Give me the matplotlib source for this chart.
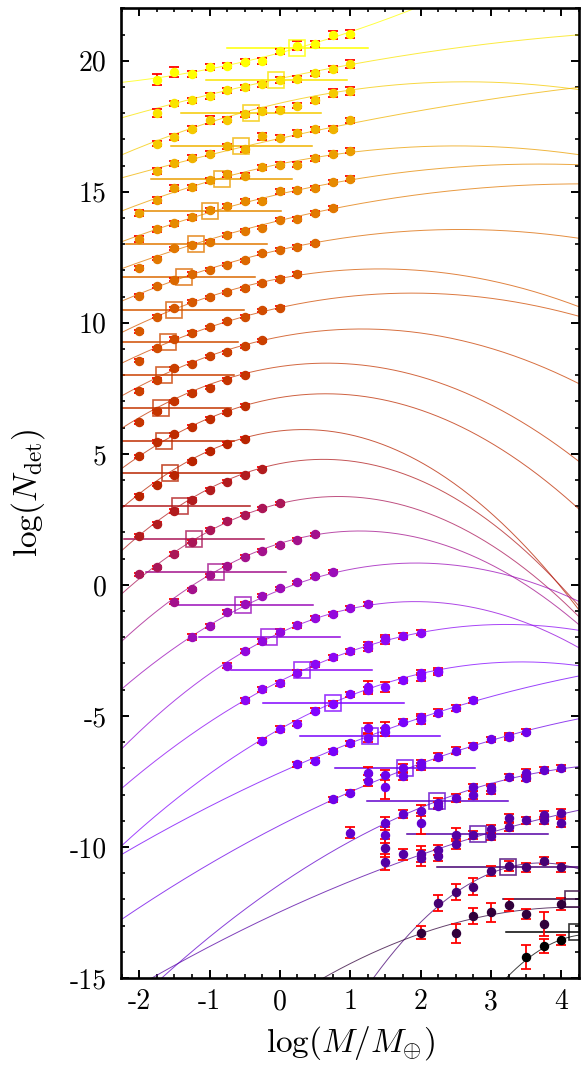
import numpy as np
import matplotlib
matplotlib.use("Agg")
import matplotlib.pyplot as plt
from matplotlib.ticker import MultipleLocator

# ---------------- data (series 0 = top/yellow ... series 27 = bottom/black) ----------------
square_x = [0.25, -0.05, -0.41, -0.55, -0.83, -0.99, -1.19, -1.36, -1.51, -1.59,
            -1.65, -1.69, -1.65, -1.56, -1.42, -1.22, -0.91, -0.53, -0.15, 0.31,
            0.76, 1.28, 1.78, 2.24, 2.81, 3.24, 4.17, 4.22]
square_y = [20.5, 19.25, 18.0, 16.75, 15.5, 14.25, 13.0, 11.75, 10.5, 9.25,
            8.0, 6.75, 5.5, 4.25, 3.0, 1.75, 0.5, -0.75, -2.0, -3.25,
            -4.5, -5.75, -7.0, -8.25, -9.5, -10.75, -12.0, -13.25]
hline_half = 1.0

# quadratic model curves  y = c0 + c1*x + c2*x^2
curve_c0 = [20.30, 19.321, 18.381, 17.036, 16.06, 14.914, 13.906, 12.785, 11.692, 10.579,
            9.467, 8.33, 7.148, 5.875, 4.628, 3.102, 1.584, -0.197, -1.829, -3.676,
            -5.50, -7.167, -9.176, -11.429, -12.477, -21.281, -16.02, -36.067]
curve_c1 = [0.708, 0.5714, 0.6155, 0.596, 0.5502, 0.6197, 0.6486, 0.6048, 0.5116, 0.5892,
            0.5097, 0.3897, 0.4407, 0.3016, 0.5229, 0.6502, 0.8333, 1.0627, 1.2412, 1.3466,
            1.4908, 1.2069, 1.3737, 1.8229, 1.2445, 5.754, 1.782, 10.297]
curve_c2 = [0.0923, -0.0422, -0.1163, -0.0324, -0.1098, -0.0840, -0.0754, -0.1179, -0.1800, -0.1568,
            -0.2189, -0.292, -0.3391, -0.4487, -0.4237, -0.3917, -0.3677, -0.2741, -0.3235, -0.2093,
            -0.2170, -0.0797, -0.0980, -0.1801, -0.0781, -0.7757, -0.2132, -1.166]

pts_x = [
    [-1.75, -1.5, -1.25, -1.0, -0.75, -0.5, -0.25, 0.0, 0.25, 0.5, 0.75, 1.0],
    [-1.75, -1.5, -1.25, -1.0, -0.75, -0.5, -0.25, 0.0, 0.25, 0.5, 0.75, 1.0],
    [-1.75, -1.5, -1.25, -1.0, -0.75, -0.5, -0.25, 0.0, 0.25, 0.5, 0.75, 1.0],
    [-1.75, -1.5, -1.25, -1.0, -0.75, -0.5, -0.25, 0.0, 0.25, 0.5, 0.75, 1.0],
    [-2.0, -1.75, -1.5, -1.25, -1.0, -0.75, -0.5, -0.25, 0.0, 0.25, 0.5, 0.75, 1.0],
    [-2.0, -1.75, -1.5, -1.25, -1.0, -0.75, -0.5, -0.25, 0.0, 0.25, 0.5, 0.75, 1.0],
    [-2.0, -1.75, -1.5, -1.25, -1.0, -0.75, -0.5, -0.25, 0.0, 0.25, 0.5, 0.75],
    [-2.0, -1.75, -1.5, -1.25, -1.0, -0.75, -0.5, -0.25, 0.0, 0.25, 0.5],
    [-2.0, -1.75, -1.5, -1.25, -1.0, -0.75, -0.5, -0.25, 0.0, 0.25],
    [-2.0, -1.75, -1.5, -1.25, -1.0, -0.75, -0.5, -0.25, 0.0],
    [-2.0, -1.75, -1.5, -1.25, -1.0, -0.75, -0.5, -0.25],
    [-2.0, -1.75, -1.5, -1.25, -1.0, -0.75, -0.5],
    [-2.0, -1.75, -1.5, -1.25, -1.0, -0.75, -0.5],
    [-2.0, -1.75, -1.5, -1.25, -1.0, -0.75, -0.5],
    [-2.0, -1.75, -1.5, -1.25, -1.0, -0.75, -0.5, -0.25],
    [-2.0, -1.75, -1.5, -1.25, -1.0, -0.75, -0.5, -0.25, 0.0],
    [-1.5, -1.25, -1.0, -0.75, -0.5, -0.25, 0.0, 0.25, 0.5],
    [-1.25, -1.0, -0.75, -0.5, -0.25, 0.0, 0.25, 0.5, 0.75],
    [-0.75, -0.5, -0.25, 0.0, 0.25, 0.5, 0.75, 1.0, 1.25],
    [-0.5, -0.25, 0.0, 0.25, 0.5, 0.75, 1.0, 1.25, 1.25, 1.5, 1.5, 1.75, 2.0],
    [-0.25, 0.0, 0.25, 0.5, 0.75, 1.0, 1.25, 1.25, 1.5, 1.75, 2.0, 2.0, 2.25, 2.25],
    [0.25, 0.5, 0.75, 1.0, 1.25, 1.25, 1.5, 1.5, 1.75, 2.0, 2.0, 2.25, 2.5, 2.75],
    [0.75, 1.0, 1.25, 1.25, 1.5, 1.5, 1.75, 1.75, 2.0, 2.0, 2.25, 2.5, 2.75, 3.0, 3.25, 3.25, 3.5],
    [1.0, 1.5, 1.5, 1.75, 2.0, 2.0, 2.25, 2.25, 2.5, 2.75, 2.75, 3.0, 3.0, 3.25, 3.5, 3.5, 3.75, 4.0],
    [1.5, 1.5, 1.75, 2.0, 2.0, 2.25, 2.25, 2.5, 2.5, 2.75, 3.0, 3.0, 3.25, 3.25, 3.5, 3.75, 3.75, 4.0, 4.0],
    [2.25, 2.5, 2.75, 3.0, 3.25, 3.5, 3.75, 4.0],
    [2.0, 2.5, 2.75, 3.0, 3.25, 3.5, 3.75, 4.0],
    [3.5, 3.75, 4.0],
]
pts_y = [
    [19.28, 19.57, 19.49, 19.77, 19.81, 19.96, 19.99, 20.36, 20.58, 20.64, 20.98, 21.02],
    [18.00, 18.37, 18.49, 18.65, 18.87, 18.99, 19.10, 19.26, 19.30, 19.52, 19.68, 19.88],
    [16.83, 17.09, 17.40, 17.75, 17.75, 17.96, 18.08, 18.13, 18.28, 18.49, 18.77, 18.84],
    [15.79, 16.08, 16.30, 16.45, 16.73, 16.62, 17.11, 17.06, 17.25, 17.39, 17.40, 17.72],
    [14.19, 14.69, 15.14, 15.17, 15.43, 15.66, 15.61, 15.94, 16.04, 16.04, 16.27, 16.45, 16.57],
    [13.19, 13.57, 13.79, 14.02, 14.29, 14.47, 14.66, 14.64, 15.01, 15.06, 15.13, 15.36, 15.50],
    [12.09, 12.44, 12.85, 12.98, 13.10, 13.35, 13.52, 13.63, 13.93, 13.96, 14.19, 14.38],
    [11.03, 11.39, 11.64, 11.86, 12.02, 12.21, 12.38, 12.66, 12.79, 12.89, 13.04],
    [9.67, 10.24, 10.56, 10.81, 10.98, 11.16, 11.32, 11.51, 11.67, 11.86],
    [8.56, 9.03, 9.38, 9.61, 9.83, 10.05, 10.24, 10.47, 10.58],
    [7.40, 7.82, 8.27, 8.44, 8.72, 8.87, 9.10, 9.33],
    [6.20, 6.62, 7.00, 7.32, 7.53, 7.83, 8.02],
    [4.90, 5.47, 5.75, 6.04, 6.34, 6.59, 6.84],
    [3.41, 3.82, 4.20, 4.72, 5.10, 5.38, 5.57],
    [1.87, 2.33, 2.82, 3.24, 3.63, 3.94, 4.20, 4.44],
    [0.41, 0.67, 1.18, 1.65, 2.10, 2.44, 2.67, 2.93, 3.12],
    [-0.64, -0.17, 0.36, 0.73, 1.08, 1.31, 1.51, 1.72, 1.93],
    [-1.99, -1.56, -1.03, -0.72, -0.41, -0.13, 0.10, 0.32, 0.51],
    [-3.08, -2.51, -2.16, -1.78, -1.55, -1.25, -1.12, -0.89, -0.72],
    [-4.41, -3.98, -3.75, -3.35, -3.03, -2.76, -2.54, -2.30, -2.42, -2.02, -2.12, -1.95, -1.82],
    [-5.95, -5.50, -5.30, -4.80, -4.54, -4.17, -3.88, -4.03, -3.90, -3.64, -3.35, -3.52, -3.27, -3.33],
    [-6.85, -6.71, -6.35, -6.04, -5.47, -5.83, -5.45, -5.62, -5.22, -5.15, -5.03, -4.87, -4.71, -4.41],
    [-8.18, -7.93, -7.19, -7.47, -7.25, -7.72, -6.99, -7.31, -6.93, -6.81, -6.55, -6.32, -6.14, -5.89,
     -5.75, -5.81, -5.60],
    [-9.45, -9.10, -9.54, -8.75, -8.61, -9.10, -8.33, -8.42, -8.14, -7.73, -8.02, -7.73, -7.82, -7.34,
     -7.19, -7.38, -7.06, -6.99],
    [-10.05, -10.58, -10.28, -10.28, -10.43, -10.11, -10.33, -9.54, -9.89, -9.54, -9.33, -9.60, -8.90,
     -9.25, -8.99, -8.78, -8.99, -8.71, -9.07],
    [-12.15, -11.73, -11.51, -10.92, -10.72, -10.78, -10.52, -10.78],
    [-13.27, -13.30, -12.63, -12.50, -12.21, -12.56, -12.94, -12.17],
    [-14.21, -13.78, -13.55],
]
pts_err = [
    [0.20, 0.18, 0.12, 0.12, 0.10, 0.10, 0.10, 0.10, 0.18, 0.10, 0.15, 0.15],
    [0.15, 0.10, 0.10, 0.10, 0.10, 0.10, 0.10, 0.10, 0.10, 0.10, 0.10, 0.15],
    [0.10, 0.10, 0.10, 0.15, 0.10, 0.10, 0.10, 0.10, 0.10, 0.10, 0.15, 0.15],
    [0.12, 0.10, 0.10, 0.10, 0.10, 0.10, 0.12, 0.10, 0.12, 0.10, 0.10, 0.10],
    [0.12, 0.10, 0.10, 0.10, 0.10, 0.10, 0.10, 0.10, 0.10, 0.10, 0.10, 0.10, 0.10],
    [0.12, 0.10, 0.08, 0.08, 0.08, 0.08, 0.08, 0.08, 0.08, 0.08, 0.08, 0.08, 0.10],
    [0.06, 0.06, 0.06, 0.06, 0.06, 0.06, 0.06, 0.06, 0.06, 0.06, 0.06, 0.06],
    [0.06, 0.06, 0.06, 0.06, 0.06, 0.06, 0.06, 0.06, 0.06, 0.06, 0.06],
    [0.06, 0.06, 0.06, 0.06, 0.06, 0.06, 0.06, 0.06, 0.06, 0.06],
    [0.06, 0.06, 0.06, 0.06, 0.06, 0.06, 0.06, 0.06, 0.06],
    [0.06, 0.06, 0.06, 0.06, 0.06, 0.06, 0.06, 0.06],
    [0.06, 0.06, 0.06, 0.06, 0.06, 0.06, 0.06],
    [0.06, 0.06, 0.06, 0.06, 0.06, 0.06, 0.06],
    [0.06, 0.06, 0.06, 0.06, 0.06, 0.06, 0.06],
    [0.06, 0.06, 0.06, 0.06, 0.06, 0.06, 0.06, 0.06],
    [0.06, 0.06, 0.06, 0.06, 0.06, 0.06, 0.06, 0.06, 0.06],
    [0.10, 0.06, 0.06, 0.06, 0.06, 0.06, 0.06, 0.06, 0.06],
    [0.10, 0.08, 0.08, 0.06, 0.06, 0.06, 0.06, 0.06, 0.06],
    [0.10, 0.08, 0.08, 0.08, 0.08, 0.08, 0.08, 0.08, 0.08],
    [0.10, 0.10, 0.10, 0.10, 0.10, 0.10, 0.10, 0.12, 0.12, 0.12, 0.12, 0.10, 0.10],
    [0.10, 0.10, 0.10, 0.10, 0.10, 0.10, 0.20, 0.15, 0.20, 0.10, 0.10, 0.15, 0.10, 0.10],
    [0.10, 0.10, 0.10, 0.10, 0.20, 0.15, 0.20, 0.15, 0.10, 0.15, 0.10, 0.12, 0.12, 0.10],
    [0.10, 0.10, 0.25, 0.20, 0.20, 0.45, 0.15, 0.15, 0.12, 0.12, 0.12, 0.12, 0.10, 0.10, 0.10, 0.10, 0.10],
    [0.20, 0.25, 0.30, 0.15, 0.20, 0.40, 0.20, 0.15, 0.15, 0.15, 0.15, 0.15, 0.15, 0.12, 0.15, 0.12, 0.10, 0.10],
    [0.35, 0.30, 0.20, 0.30, 0.30, 0.20, 0.20, 0.25, 0.20, 0.15, 0.15, 0.15, 0.15, 0.15, 0.15, 0.15, 0.15,
     0.15, 0.15],
    [0.30, 0.30, 0.32, 0.20, 0.20, 0.17, 0.14, 0.17],
    [0.25, 0.35, 0.30, 0.37, 0.24, 0.20, 0.45, 0.22],
    [0.45, 0.25, 0.20],
]

xtick_vals = [-2, -1, 0, 1, 2, 3, 4]
xtick_labels = ["-2", "-1", "0", "1", "2", "3", "4"]
ytick_vals = [-15, -10, -5, 0, 5, 10, 15, 20]
ytick_labels = ["-15", "-10", "-5", "0", "5", "10", "15", "20"]

# ---------------- style ----------------
plt.rcParams["mathtext.fontset"] = "cm"
plt.rcParams["axes.unicode_minus"] = False

n_series = len(square_y)


def palette(k):
    # gnuplot default pm3d palette (rgbformulae 7,5,15): black -> purple -> red -> yellow
    t = (n_series - 1 - k) / (n_series - 1)
    r = np.sqrt(t)
    g = t ** 3
    b = max(0.0, np.sin(2 * np.pi * t))
    return (min(r, 1.0), min(g, 1.0), min(b, 1.0))


fig = plt.figure(figsize=(5.81, 10.65), dpi=100)
ax = fig.add_axes([0.2077, 0.0817, 0.7893, 0.9105])

xlo, xhi = -2.264, 4.256
xs = np.linspace(xlo, xhi, 400)

for k in range(n_series):
    col = palette(k)
    ys = curve_c0[k] + curve_c1[k] * xs + curve_c2[k] * xs ** 2
    ax.plot(xs, ys, color=col, lw=0.7, alpha=0.75, zorder=2, solid_capstyle="butt")
    ax.plot([square_x[k] - hline_half, square_x[k] + hline_half], [square_y[k], square_y[k]],
            color=col, lw=1.1, zorder=2.5)
    ax.errorbar(pts_x[k], pts_y[k], yerr=pts_err[k], fmt="none", ecolor="#ff0000",
                elinewidth=1.3, capsize=3.4, capthick=1.3, zorder=3)
    ax.plot(pts_x[k], pts_y[k], "o", color=col, mec=col, ms=5.8, zorder=4)
    ax.plot([square_x[k]], [square_y[k]], "s", mfc="none", mec=col, ms=11.5, mew=1.2,
            zorder=5, alpha=0.8)

ax.set_xlim(xlo, xhi)
ax.set_ylim(-15, 22)

ax.set_xticks(xtick_vals)
ax.set_xticklabels(xtick_labels)
ax.set_yticks(ytick_vals)
ax.set_yticklabels(ytick_labels)
ax.xaxis.set_minor_locator(MultipleLocator(0.25))
ax.yaxis.set_minor_locator(MultipleLocator(1))

for lab in ax.get_xticklabels() + ax.get_yticklabels():
    lab.set_fontfamily("cmr10")
    lab.set_fontsize(20)

ax.tick_params(which="both", direction="in", top=True, right=True)
ax.tick_params(which="major", length=5.5, width=1.4)
ax.tick_params(which="minor", length=2.8, width=1.2)
ax.tick_params(axis="x", which="major", pad=8)
ax.tick_params(axis="y", which="major", pad=10)

for sp in ax.spines.values():
    sp.set_linewidth(1.9)

ax.set_xlabel(r"$\log(M/M_{\oplus})$", fontsize=24, labelpad=6)
ax.set_ylabel(r"$\log(N_{\rm det})$", fontsize=24, labelpad=16)

fig.savefig("out.png", dpi=100)
